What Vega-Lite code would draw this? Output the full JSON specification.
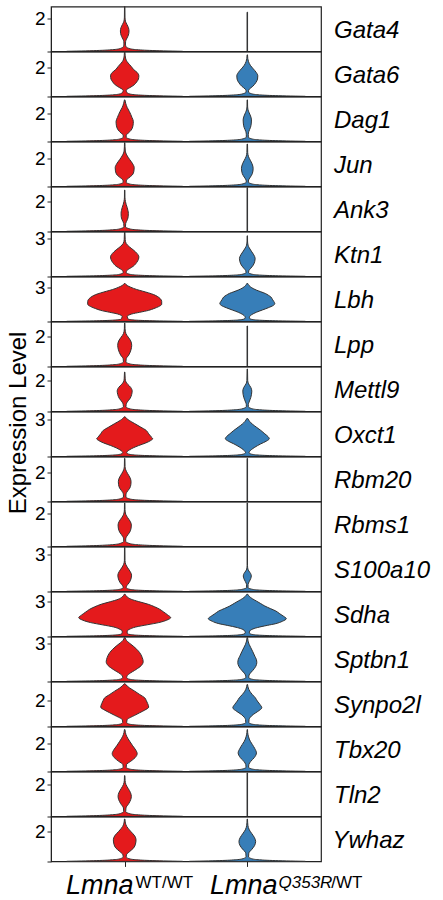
{
"$schema":"https://vega.github.io/schema/vega-lite/v6.json",
"padding":{"left":6,"top":3.5,"right":0,"bottom":0},
"spacing":0,
"bounds":"flush",
"title":{"text":"Expression Level","orient":"left","anchor":"middle","fontSize":24,"fontStyle":"normal","offset":3,"dx":29},
"datasets":{"violins":[
{"gene":"Gata4","grp":"WT","expr":0,"dens":116},{"gene":"Gata4","grp":"WT","expr":0.03,"dens":78},{"gene":"Gata4","grp":"WT","expr":0.06,"dens":50},{"gene":"Gata4","grp":"WT","expr":0.09,"dens":31},{"gene":"Gata4","grp":"WT","expr":0.12,"dens":19},{"gene":"Gata4","grp":"WT","expr":0.16,"dens":11},{"gene":"Gata4","grp":"WT","expr":0.2,"dens":7},{"gene":"Gata4","grp":"WT","expr":0.3,"dens":2.5},{"gene":"Gata4","grp":"WT","expr":0.45,"dens":1.5},{"gene":"Gata4","grp":"WT","expr":0.6,"dens":1.8},{"gene":"Gata4","grp":"WT","expr":0.75,"dens":3.5},{"gene":"Gata4","grp":"WT","expr":0.9,"dens":6},{"gene":"Gata4","grp":"WT","expr":1.1,"dens":8.2},{"gene":"Gata4","grp":"WT","expr":1.25,"dens":8.6},{"gene":"Gata4","grp":"WT","expr":1.45,"dens":7.5},{"gene":"Gata4","grp":"WT","expr":1.65,"dens":4.5},{"gene":"Gata4","grp":"WT","expr":1.85,"dens":1.5},{"gene":"Gata4","grp":"WT","expr":2.1,"dens":0.6},{"gene":"Gata4","grp":"WT","expr":2.75,"dens":0.4},
{"gene":"Gata4","grp":"MUT","expr":0,"dens":0.5},{"gene":"Gata4","grp":"MUT","expr":2.4,"dens":0.5},
{"gene":"Gata6","grp":"WT","expr":0,"dens":116},{"gene":"Gata6","grp":"WT","expr":0.03,"dens":78},{"gene":"Gata6","grp":"WT","expr":0.06,"dens":50},{"gene":"Gata6","grp":"WT","expr":0.09,"dens":31},{"gene":"Gata6","grp":"WT","expr":0.12,"dens":19},{"gene":"Gata6","grp":"WT","expr":0.16,"dens":11},{"gene":"Gata6","grp":"WT","expr":0.2,"dens":7},{"gene":"Gata6","grp":"WT","expr":0.3,"dens":4},{"gene":"Gata6","grp":"WT","expr":0.41,"dens":3},{"gene":"Gata6","grp":"WT","expr":0.5,"dens":5},{"gene":"Gata6","grp":"WT","expr":0.6,"dens":10},{"gene":"Gata6","grp":"WT","expr":0.8,"dens":19},{"gene":"Gata6","grp":"WT","expr":1.0,"dens":24},{"gene":"Gata6","grp":"WT","expr":1.2,"dens":27.5},{"gene":"Gata6","grp":"WT","expr":1.42,"dens":28.3},{"gene":"Gata6","grp":"WT","expr":1.65,"dens":25},{"gene":"Gata6","grp":"WT","expr":1.85,"dens":18},{"gene":"Gata6","grp":"WT","expr":2.07,"dens":13},{"gene":"Gata6","grp":"WT","expr":2.3,"dens":7},{"gene":"Gata6","grp":"WT","expr":2.5,"dens":3},{"gene":"Gata6","grp":"WT","expr":2.8,"dens":1},{"gene":"Gata6","grp":"WT","expr":3.1,"dens":0.4},
{"gene":"Gata6","grp":"MUT","expr":0,"dens":116},{"gene":"Gata6","grp":"MUT","expr":0.03,"dens":78},{"gene":"Gata6","grp":"MUT","expr":0.06,"dens":50},{"gene":"Gata6","grp":"MUT","expr":0.09,"dens":31},{"gene":"Gata6","grp":"MUT","expr":0.12,"dens":19},{"gene":"Gata6","grp":"MUT","expr":0.16,"dens":11},{"gene":"Gata6","grp":"MUT","expr":0.2,"dens":7},{"gene":"Gata6","grp":"MUT","expr":0.3,"dens":2.5},{"gene":"Gata6","grp":"MUT","expr":0.4,"dens":2.5},{"gene":"Gata6","grp":"MUT","expr":0.5,"dens":4},{"gene":"Gata6","grp":"MUT","expr":0.7,"dens":11},{"gene":"Gata6","grp":"MUT","expr":0.95,"dens":17},{"gene":"Gata6","grp":"MUT","expr":1.2,"dens":20.5},{"gene":"Gata6","grp":"MUT","expr":1.42,"dens":21},{"gene":"Gata6","grp":"MUT","expr":1.65,"dens":18},{"gene":"Gata6","grp":"MUT","expr":1.9,"dens":12},{"gene":"Gata6","grp":"MUT","expr":2.15,"dens":6},{"gene":"Gata6","grp":"MUT","expr":2.4,"dens":2.5},{"gene":"Gata6","grp":"MUT","expr":2.6,"dens":1},{"gene":"Gata6","grp":"MUT","expr":2.87,"dens":0.4},
{"gene":"Dag1","grp":"WT","expr":0,"dens":116},{"gene":"Dag1","grp":"WT","expr":0.03,"dens":78},{"gene":"Dag1","grp":"WT","expr":0.06,"dens":50},{"gene":"Dag1","grp":"WT","expr":0.09,"dens":31},{"gene":"Dag1","grp":"WT","expr":0.12,"dens":19},{"gene":"Dag1","grp":"WT","expr":0.16,"dens":11},{"gene":"Dag1","grp":"WT","expr":0.2,"dens":7},{"gene":"Dag1","grp":"WT","expr":0.3,"dens":3},{"gene":"Dag1","grp":"WT","expr":0.45,"dens":3},{"gene":"Dag1","grp":"WT","expr":0.58,"dens":7},{"gene":"Dag1","grp":"WT","expr":0.8,"dens":13},{"gene":"Dag1","grp":"WT","expr":1.1,"dens":16.5},{"gene":"Dag1","grp":"WT","expr":1.41,"dens":17.3},{"gene":"Dag1","grp":"WT","expr":1.7,"dens":14.5},{"gene":"Dag1","grp":"WT","expr":2.12,"dens":9.3},{"gene":"Dag1","grp":"WT","expr":2.4,"dens":5},{"gene":"Dag1","grp":"WT","expr":2.7,"dens":2},{"gene":"Dag1","grp":"WT","expr":2.94,"dens":0.5},
{"gene":"Dag1","grp":"MUT","expr":0,"dens":116},{"gene":"Dag1","grp":"MUT","expr":0.03,"dens":78},{"gene":"Dag1","grp":"MUT","expr":0.06,"dens":50},{"gene":"Dag1","grp":"MUT","expr":0.09,"dens":31},{"gene":"Dag1","grp":"MUT","expr":0.12,"dens":19},{"gene":"Dag1","grp":"MUT","expr":0.16,"dens":11},{"gene":"Dag1","grp":"MUT","expr":0.2,"dens":7},{"gene":"Dag1","grp":"MUT","expr":0.3,"dens":2},{"gene":"Dag1","grp":"MUT","expr":0.5,"dens":2},{"gene":"Dag1","grp":"MUT","expr":0.7,"dens":3},{"gene":"Dag1","grp":"MUT","expr":1.0,"dens":6.5},{"gene":"Dag1","grp":"MUT","expr":1.3,"dens":8},{"gene":"Dag1","grp":"MUT","expr":1.52,"dens":8.3},{"gene":"Dag1","grp":"MUT","expr":1.8,"dens":6.5},{"gene":"Dag1","grp":"MUT","expr":2.05,"dens":3.5},{"gene":"Dag1","grp":"MUT","expr":2.23,"dens":1.5},{"gene":"Dag1","grp":"MUT","expr":2.5,"dens":0.6},{"gene":"Dag1","grp":"MUT","expr":2.94,"dens":0.4},
{"gene":"Jun","grp":"WT","expr":0,"dens":116},{"gene":"Jun","grp":"WT","expr":0.03,"dens":78},{"gene":"Jun","grp":"WT","expr":0.06,"dens":50},{"gene":"Jun","grp":"WT","expr":0.09,"dens":31},{"gene":"Jun","grp":"WT","expr":0.12,"dens":19},{"gene":"Jun","grp":"WT","expr":0.16,"dens":11},{"gene":"Jun","grp":"WT","expr":0.2,"dens":7},{"gene":"Jun","grp":"WT","expr":0.3,"dens":3},{"gene":"Jun","grp":"WT","expr":0.45,"dens":3.5},{"gene":"Jun","grp":"WT","expr":0.57,"dens":7},{"gene":"Jun","grp":"WT","expr":0.8,"dens":15},{"gene":"Jun","grp":"WT","expr":1.1,"dens":18.5},{"gene":"Jun","grp":"WT","expr":1.33,"dens":19},{"gene":"Jun","grp":"WT","expr":1.6,"dens":16},{"gene":"Jun","grp":"WT","expr":1.9,"dens":10},{"gene":"Jun","grp":"WT","expr":2.23,"dens":4},{"gene":"Jun","grp":"WT","expr":2.5,"dens":1.2},{"gene":"Jun","grp":"WT","expr":3.1,"dens":0.4},
{"gene":"Jun","grp":"MUT","expr":0,"dens":116},{"gene":"Jun","grp":"MUT","expr":0.03,"dens":78},{"gene":"Jun","grp":"MUT","expr":0.06,"dens":50},{"gene":"Jun","grp":"MUT","expr":0.09,"dens":31},{"gene":"Jun","grp":"MUT","expr":0.12,"dens":19},{"gene":"Jun","grp":"MUT","expr":0.16,"dens":11},{"gene":"Jun","grp":"MUT","expr":0.2,"dens":7},{"gene":"Jun","grp":"MUT","expr":0.3,"dens":2},{"gene":"Jun","grp":"MUT","expr":0.45,"dens":2.5},{"gene":"Jun","grp":"MUT","expr":0.6,"dens":5},{"gene":"Jun","grp":"MUT","expr":0.9,"dens":10},{"gene":"Jun","grp":"MUT","expr":1.28,"dens":11.7},{"gene":"Jun","grp":"MUT","expr":1.6,"dens":9.5},{"gene":"Jun","grp":"MUT","expr":1.85,"dens":6},{"gene":"Jun","grp":"MUT","expr":2.1,"dens":2.5},{"gene":"Jun","grp":"MUT","expr":2.4,"dens":0.8},{"gene":"Jun","grp":"MUT","expr":3.0,"dens":0.4},
{"gene":"Ank3","grp":"WT","expr":0,"dens":116},{"gene":"Ank3","grp":"WT","expr":0.03,"dens":78},{"gene":"Ank3","grp":"WT","expr":0.06,"dens":50},{"gene":"Ank3","grp":"WT","expr":0.09,"dens":31},{"gene":"Ank3","grp":"WT","expr":0.12,"dens":19},{"gene":"Ank3","grp":"WT","expr":0.16,"dens":11},{"gene":"Ank3","grp":"WT","expr":0.2,"dens":7},{"gene":"Ank3","grp":"WT","expr":0.3,"dens":1.5},{"gene":"Ank3","grp":"WT","expr":0.54,"dens":2},{"gene":"Ank3","grp":"WT","expr":0.8,"dens":5.5},{"gene":"Ank3","grp":"WT","expr":1.0,"dens":7},{"gene":"Ank3","grp":"WT","expr":1.21,"dens":7.3},{"gene":"Ank3","grp":"WT","expr":1.4,"dens":6.5},{"gene":"Ank3","grp":"WT","expr":1.6,"dens":5},{"gene":"Ank3","grp":"WT","expr":1.8,"dens":3},{"gene":"Ank3","grp":"WT","expr":2.0,"dens":1.5},{"gene":"Ank3","grp":"WT","expr":2.3,"dens":0.5},{"gene":"Ank3","grp":"WT","expr":2.77,"dens":0.4},
{"gene":"Ank3","grp":"MUT","expr":0,"dens":0.5},{"gene":"Ank3","grp":"MUT","expr":2.93,"dens":0.5},
{"gene":"Ktn1","grp":"WT","expr":0,"dens":116},{"gene":"Ktn1","grp":"WT","expr":0.03,"dens":78},{"gene":"Ktn1","grp":"WT","expr":0.06,"dens":50},{"gene":"Ktn1","grp":"WT","expr":0.09,"dens":31},{"gene":"Ktn1","grp":"WT","expr":0.12,"dens":19},{"gene":"Ktn1","grp":"WT","expr":0.16,"dens":11},{"gene":"Ktn1","grp":"WT","expr":0.2,"dens":7},{"gene":"Ktn1","grp":"WT","expr":0.3,"dens":3},{"gene":"Ktn1","grp":"WT","expr":0.45,"dens":4},{"gene":"Ktn1","grp":"WT","expr":0.6,"dens":9},{"gene":"Ktn1","grp":"WT","expr":0.8,"dens":17},{"gene":"Ktn1","grp":"WT","expr":1.1,"dens":24},{"gene":"Ktn1","grp":"WT","expr":1.35,"dens":27.5},{"gene":"Ktn1","grp":"WT","expr":1.55,"dens":28.3},{"gene":"Ktn1","grp":"WT","expr":1.8,"dens":25},{"gene":"Ktn1","grp":"WT","expr":2.1,"dens":17},{"gene":"Ktn1","grp":"WT","expr":2.35,"dens":9},{"gene":"Ktn1","grp":"WT","expr":2.6,"dens":3},{"gene":"Ktn1","grp":"WT","expr":2.9,"dens":1},{"gene":"Ktn1","grp":"WT","expr":3.53,"dens":0.4},
{"gene":"Ktn1","grp":"MUT","expr":0,"dens":116},{"gene":"Ktn1","grp":"MUT","expr":0.03,"dens":78},{"gene":"Ktn1","grp":"MUT","expr":0.06,"dens":50},{"gene":"Ktn1","grp":"MUT","expr":0.09,"dens":31},{"gene":"Ktn1","grp":"MUT","expr":0.12,"dens":19},{"gene":"Ktn1","grp":"MUT","expr":0.16,"dens":11},{"gene":"Ktn1","grp":"MUT","expr":0.2,"dens":7},{"gene":"Ktn1","grp":"MUT","expr":0.3,"dens":2.5},{"gene":"Ktn1","grp":"MUT","expr":0.45,"dens":3},{"gene":"Ktn1","grp":"MUT","expr":0.6,"dens":6},{"gene":"Ktn1","grp":"MUT","expr":0.9,"dens":12},{"gene":"Ktn1","grp":"MUT","expr":1.2,"dens":15},{"gene":"Ktn1","grp":"MUT","expr":1.42,"dens":15.7},{"gene":"Ktn1","grp":"MUT","expr":1.7,"dens":13},{"gene":"Ktn1","grp":"MUT","expr":2.0,"dens":8},{"gene":"Ktn1","grp":"MUT","expr":2.25,"dens":4},{"gene":"Ktn1","grp":"MUT","expr":2.47,"dens":1.5},{"gene":"Ktn1","grp":"MUT","expr":2.8,"dens":0.5},{"gene":"Ktn1","grp":"MUT","expr":3.21,"dens":0.4},
{"gene":"Lbh","grp":"WT","expr":0,"dens":116},{"gene":"Lbh","grp":"WT","expr":0.03,"dens":78},{"gene":"Lbh","grp":"WT","expr":0.06,"dens":50},{"gene":"Lbh","grp":"WT","expr":0.09,"dens":31},{"gene":"Lbh","grp":"WT","expr":0.12,"dens":19},{"gene":"Lbh","grp":"WT","expr":0.16,"dens":11},{"gene":"Lbh","grp":"WT","expr":0.2,"dens":7},{"gene":"Lbh","grp":"WT","expr":0.3,"dens":6},{"gene":"Lbh","grp":"WT","expr":0.45,"dens":5},{"gene":"Lbh","grp":"WT","expr":0.55,"dens":8},{"gene":"Lbh","grp":"WT","expr":0.65,"dens":14},{"gene":"Lbh","grp":"WT","expr":0.8,"dens":30},{"gene":"Lbh","grp":"WT","expr":0.97,"dens":48},{"gene":"Lbh","grp":"WT","expr":1.12,"dens":58},{"gene":"Lbh","grp":"WT","expr":1.3,"dens":68},{"gene":"Lbh","grp":"WT","expr":1.5,"dens":74},{"gene":"Lbh","grp":"WT","expr":1.75,"dens":74},{"gene":"Lbh","grp":"WT","expr":2.0,"dens":71},{"gene":"Lbh","grp":"WT","expr":2.2,"dens":65},{"gene":"Lbh","grp":"WT","expr":2.35,"dens":58},{"gene":"Lbh","grp":"WT","expr":2.5,"dens":48},{"gene":"Lbh","grp":"WT","expr":2.65,"dens":36},{"gene":"Lbh","grp":"WT","expr":2.8,"dens":24},{"gene":"Lbh","grp":"WT","expr":3.0,"dens":12},{"gene":"Lbh","grp":"WT","expr":3.15,"dens":5},{"gene":"Lbh","grp":"WT","expr":3.32,"dens":1},
{"gene":"Lbh","grp":"MUT","expr":0,"dens":116},{"gene":"Lbh","grp":"MUT","expr":0.03,"dens":78},{"gene":"Lbh","grp":"MUT","expr":0.06,"dens":50},{"gene":"Lbh","grp":"MUT","expr":0.09,"dens":31},{"gene":"Lbh","grp":"MUT","expr":0.12,"dens":19},{"gene":"Lbh","grp":"MUT","expr":0.16,"dens":11},{"gene":"Lbh","grp":"MUT","expr":0.2,"dens":7},{"gene":"Lbh","grp":"MUT","expr":0.3,"dens":4},{"gene":"Lbh","grp":"MUT","expr":0.45,"dens":5},{"gene":"Lbh","grp":"MUT","expr":0.6,"dens":9},{"gene":"Lbh","grp":"MUT","expr":0.8,"dens":18},{"gene":"Lbh","grp":"MUT","expr":1.0,"dens":30},{"gene":"Lbh","grp":"MUT","expr":1.2,"dens":42},{"gene":"Lbh","grp":"MUT","expr":1.4,"dens":52},{"gene":"Lbh","grp":"MUT","expr":1.56,"dens":55},{"gene":"Lbh","grp":"MUT","expr":1.75,"dens":53},{"gene":"Lbh","grp":"MUT","expr":1.95,"dens":50},{"gene":"Lbh","grp":"MUT","expr":2.15,"dens":47},{"gene":"Lbh","grp":"MUT","expr":2.3,"dens":42},{"gene":"Lbh","grp":"MUT","expr":2.45,"dens":36},{"gene":"Lbh","grp":"MUT","expr":2.6,"dens":27},{"gene":"Lbh","grp":"MUT","expr":2.75,"dens":18},{"gene":"Lbh","grp":"MUT","expr":2.95,"dens":9},{"gene":"Lbh","grp":"MUT","expr":3.15,"dens":3.5},{"gene":"Lbh","grp":"MUT","expr":3.32,"dens":1},
{"gene":"Lpp","grp":"WT","expr":0,"dens":116},{"gene":"Lpp","grp":"WT","expr":0.03,"dens":78},{"gene":"Lpp","grp":"WT","expr":0.06,"dens":50},{"gene":"Lpp","grp":"WT","expr":0.09,"dens":31},{"gene":"Lpp","grp":"WT","expr":0.12,"dens":19},{"gene":"Lpp","grp":"WT","expr":0.16,"dens":11},{"gene":"Lpp","grp":"WT","expr":0.2,"dens":7},{"gene":"Lpp","grp":"WT","expr":0.3,"dens":2.5},{"gene":"Lpp","grp":"WT","expr":0.51,"dens":3},{"gene":"Lpp","grp":"WT","expr":0.75,"dens":8},{"gene":"Lpp","grp":"WT","expr":1.1,"dens":12.5},{"gene":"Lpp","grp":"WT","expr":1.4,"dens":14},{"gene":"Lpp","grp":"WT","expr":1.7,"dens":12},{"gene":"Lpp","grp":"WT","expr":1.95,"dens":7},{"gene":"Lpp","grp":"WT","expr":2.18,"dens":2.5},{"gene":"Lpp","grp":"WT","expr":2.5,"dens":0.7},{"gene":"Lpp","grp":"WT","expr":2.89,"dens":0.4},
{"gene":"Lpp","grp":"MUT","expr":0,"dens":0.5},{"gene":"Lpp","grp":"MUT","expr":2.69,"dens":0.5},
{"gene":"Mettl9","grp":"WT","expr":0,"dens":116},{"gene":"Mettl9","grp":"WT","expr":0.03,"dens":78},{"gene":"Mettl9","grp":"WT","expr":0.06,"dens":50},{"gene":"Mettl9","grp":"WT","expr":0.09,"dens":31},{"gene":"Mettl9","grp":"WT","expr":0.12,"dens":19},{"gene":"Mettl9","grp":"WT","expr":0.16,"dens":11},{"gene":"Mettl9","grp":"WT","expr":0.2,"dens":7},{"gene":"Mettl9","grp":"WT","expr":0.3,"dens":2.5},{"gene":"Mettl9","grp":"WT","expr":0.45,"dens":3},{"gene":"Mettl9","grp":"WT","expr":0.6,"dens":5},{"gene":"Mettl9","grp":"WT","expr":0.85,"dens":11},{"gene":"Mettl9","grp":"WT","expr":1.1,"dens":14},{"gene":"Mettl9","grp":"WT","expr":1.31,"dens":15},{"gene":"Mettl9","grp":"WT","expr":1.55,"dens":12},{"gene":"Mettl9","grp":"WT","expr":1.75,"dens":6},{"gene":"Mettl9","grp":"WT","expr":1.9,"dens":2.5},{"gene":"Mettl9","grp":"WT","expr":2.1,"dens":1},{"gene":"Mettl9","grp":"WT","expr":2.54,"dens":0.4},
{"gene":"Mettl9","grp":"MUT","expr":0,"dens":116},{"gene":"Mettl9","grp":"MUT","expr":0.03,"dens":78},{"gene":"Mettl9","grp":"MUT","expr":0.06,"dens":50},{"gene":"Mettl9","grp":"MUT","expr":0.09,"dens":31},{"gene":"Mettl9","grp":"MUT","expr":0.12,"dens":19},{"gene":"Mettl9","grp":"MUT","expr":0.16,"dens":11},{"gene":"Mettl9","grp":"MUT","expr":0.2,"dens":7},{"gene":"Mettl9","grp":"MUT","expr":0.3,"dens":2},{"gene":"Mettl9","grp":"MUT","expr":0.45,"dens":2},{"gene":"Mettl9","grp":"MUT","expr":0.6,"dens":3.5},{"gene":"Mettl9","grp":"MUT","expr":0.9,"dens":7},{"gene":"Mettl9","grp":"MUT","expr":1.31,"dens":9},{"gene":"Mettl9","grp":"MUT","expr":1.55,"dens":7},{"gene":"Mettl9","grp":"MUT","expr":1.78,"dens":2.5},{"gene":"Mettl9","grp":"MUT","expr":2.0,"dens":0.8},{"gene":"Mettl9","grp":"MUT","expr":2.74,"dens":0.4},
{"gene":"Oxct1","grp":"WT","expr":0,"dens":116},{"gene":"Oxct1","grp":"WT","expr":0.03,"dens":78},{"gene":"Oxct1","grp":"WT","expr":0.06,"dens":50},{"gene":"Oxct1","grp":"WT","expr":0.09,"dens":31},{"gene":"Oxct1","grp":"WT","expr":0.12,"dens":19},{"gene":"Oxct1","grp":"WT","expr":0.16,"dens":11},{"gene":"Oxct1","grp":"WT","expr":0.2,"dens":7},{"gene":"Oxct1","grp":"WT","expr":0.3,"dens":4},{"gene":"Oxct1","grp":"WT","expr":0.4,"dens":5},{"gene":"Oxct1","grp":"WT","expr":0.55,"dens":10},{"gene":"Oxct1","grp":"WT","expr":0.7,"dens":17},{"gene":"Oxct1","grp":"WT","expr":0.89,"dens":28},{"gene":"Oxct1","grp":"WT","expr":1.1,"dens":42},{"gene":"Oxct1","grp":"WT","expr":1.3,"dens":52},{"gene":"Oxct1","grp":"WT","expr":1.45,"dens":56},{"gene":"Oxct1","grp":"WT","expr":1.6,"dens":53},{"gene":"Oxct1","grp":"WT","expr":1.85,"dens":48},{"gene":"Oxct1","grp":"WT","expr":2.13,"dens":43},{"gene":"Oxct1","grp":"WT","expr":2.4,"dens":32},{"gene":"Oxct1","grp":"WT","expr":2.69,"dens":20},{"gene":"Oxct1","grp":"WT","expr":2.95,"dens":9},{"gene":"Oxct1","grp":"WT","expr":3.1,"dens":4},{"gene":"Oxct1","grp":"WT","expr":3.24,"dens":1},
{"gene":"Oxct1","grp":"MUT","expr":0,"dens":116},{"gene":"Oxct1","grp":"MUT","expr":0.03,"dens":78},{"gene":"Oxct1","grp":"MUT","expr":0.06,"dens":50},{"gene":"Oxct1","grp":"MUT","expr":0.09,"dens":31},{"gene":"Oxct1","grp":"MUT","expr":0.12,"dens":19},{"gene":"Oxct1","grp":"MUT","expr":0.16,"dens":11},{"gene":"Oxct1","grp":"MUT","expr":0.2,"dens":7},{"gene":"Oxct1","grp":"MUT","expr":0.3,"dens":3.5},{"gene":"Oxct1","grp":"MUT","expr":0.4,"dens":4.5},{"gene":"Oxct1","grp":"MUT","expr":0.55,"dens":8},{"gene":"Oxct1","grp":"MUT","expr":0.75,"dens":15},{"gene":"Oxct1","grp":"MUT","expr":1.03,"dens":27},{"gene":"Oxct1","grp":"MUT","expr":1.25,"dens":38},{"gene":"Oxct1","grp":"MUT","expr":1.45,"dens":44},{"gene":"Oxct1","grp":"MUT","expr":1.6,"dens":42},{"gene":"Oxct1","grp":"MUT","expr":1.85,"dens":35},{"gene":"Oxct1","grp":"MUT","expr":2.13,"dens":27},{"gene":"Oxct1","grp":"MUT","expr":2.4,"dens":18},{"gene":"Oxct1","grp":"MUT","expr":2.65,"dens":10},{"gene":"Oxct1","grp":"MUT","expr":2.85,"dens":5},{"gene":"Oxct1","grp":"MUT","expr":3.1,"dens":1},
{"gene":"Rbm20","grp":"WT","expr":0,"dens":116},{"gene":"Rbm20","grp":"WT","expr":0.03,"dens":78},{"gene":"Rbm20","grp":"WT","expr":0.06,"dens":50},{"gene":"Rbm20","grp":"WT","expr":0.09,"dens":31},{"gene":"Rbm20","grp":"WT","expr":0.12,"dens":19},{"gene":"Rbm20","grp":"WT","expr":0.16,"dens":11},{"gene":"Rbm20","grp":"WT","expr":0.2,"dens":7},{"gene":"Rbm20","grp":"WT","expr":0.3,"dens":2.5},{"gene":"Rbm20","grp":"WT","expr":0.45,"dens":2.5},{"gene":"Rbm20","grp":"WT","expr":0.62,"dens":4},{"gene":"Rbm20","grp":"WT","expr":0.9,"dens":10},{"gene":"Rbm20","grp":"WT","expr":1.15,"dens":12.3},{"gene":"Rbm20","grp":"WT","expr":1.35,"dens":12.7},{"gene":"Rbm20","grp":"WT","expr":1.6,"dens":11},{"gene":"Rbm20","grp":"WT","expr":1.9,"dens":6},{"gene":"Rbm20","grp":"WT","expr":2.17,"dens":2},{"gene":"Rbm20","grp":"WT","expr":2.4,"dens":0.7},{"gene":"Rbm20","grp":"WT","expr":2.95,"dens":0.4},
{"gene":"Rbm20","grp":"MUT","expr":0,"dens":0.5},{"gene":"Rbm20","grp":"MUT","expr":2.95,"dens":0.5},
{"gene":"Rbms1","grp":"WT","expr":0,"dens":116},{"gene":"Rbms1","grp":"WT","expr":0.03,"dens":78},{"gene":"Rbms1","grp":"WT","expr":0.06,"dens":50},{"gene":"Rbms1","grp":"WT","expr":0.09,"dens":31},{"gene":"Rbms1","grp":"WT","expr":0.12,"dens":19},{"gene":"Rbms1","grp":"WT","expr":0.16,"dens":11},{"gene":"Rbms1","grp":"WT","expr":0.2,"dens":7},{"gene":"Rbms1","grp":"WT","expr":0.3,"dens":2},{"gene":"Rbms1","grp":"WT","expr":0.45,"dens":2},{"gene":"Rbms1","grp":"WT","expr":0.6,"dens":4},{"gene":"Rbms1","grp":"WT","expr":0.85,"dens":10},{"gene":"Rbms1","grp":"WT","expr":1.1,"dens":12.8},{"gene":"Rbms1","grp":"WT","expr":1.28,"dens":13.3},{"gene":"Rbms1","grp":"WT","expr":1.5,"dens":11},{"gene":"Rbms1","grp":"WT","expr":1.72,"dens":6},{"gene":"Rbms1","grp":"WT","expr":1.93,"dens":2},{"gene":"Rbms1","grp":"WT","expr":2.2,"dens":0.6},{"gene":"Rbms1","grp":"WT","expr":2.6,"dens":0.4},
{"gene":"Rbms1","grp":"MUT","expr":0,"dens":0.5},{"gene":"Rbms1","grp":"MUT","expr":2.6,"dens":0.5},
{"gene":"S100a10","grp":"WT","expr":0,"dens":116},{"gene":"S100a10","grp":"WT","expr":0.03,"dens":78},{"gene":"S100a10","grp":"WT","expr":0.06,"dens":50},{"gene":"S100a10","grp":"WT","expr":0.09,"dens":31},{"gene":"S100a10","grp":"WT","expr":0.12,"dens":19},{"gene":"S100a10","grp":"WT","expr":0.16,"dens":11},{"gene":"S100a10","grp":"WT","expr":0.2,"dens":7},{"gene":"S100a10","grp":"WT","expr":0.3,"dens":3},{"gene":"S100a10","grp":"WT","expr":0.45,"dens":4},{"gene":"S100a10","grp":"WT","expr":0.7,"dens":9},{"gene":"S100a10","grp":"WT","expr":1.0,"dens":12.5},{"gene":"S100a10","grp":"WT","expr":1.31,"dens":13.7},{"gene":"S100a10","grp":"WT","expr":1.6,"dens":11},{"gene":"S100a10","grp":"WT","expr":1.9,"dens":6},{"gene":"S100a10","grp":"WT","expr":2.19,"dens":2},{"gene":"S100a10","grp":"WT","expr":2.5,"dens":0.6},{"gene":"S100a10","grp":"WT","expr":3.55,"dens":0.4},
{"gene":"S100a10","grp":"MUT","expr":0,"dens":116},{"gene":"S100a10","grp":"MUT","expr":0.03,"dens":78},{"gene":"S100a10","grp":"MUT","expr":0.06,"dens":50},{"gene":"S100a10","grp":"MUT","expr":0.09,"dens":31},{"gene":"S100a10","grp":"MUT","expr":0.12,"dens":19},{"gene":"S100a10","grp":"MUT","expr":0.16,"dens":11},{"gene":"S100a10","grp":"MUT","expr":0.2,"dens":7},{"gene":"S100a10","grp":"MUT","expr":0.3,"dens":1.5},{"gene":"S100a10","grp":"MUT","expr":0.55,"dens":1.5},{"gene":"S100a10","grp":"MUT","expr":0.8,"dens":4},{"gene":"S100a10","grp":"MUT","expr":1.05,"dens":7},{"gene":"S100a10","grp":"MUT","expr":1.25,"dens":8},{"gene":"S100a10","grp":"MUT","expr":1.45,"dens":6.5},{"gene":"S100a10","grp":"MUT","expr":1.65,"dens":3},{"gene":"S100a10","grp":"MUT","expr":1.8,"dens":1.2},{"gene":"S100a10","grp":"MUT","expr":2.1,"dens":0.4},{"gene":"S100a10","grp":"MUT","expr":3.55,"dens":0.4},
{"gene":"Sdha","grp":"WT","expr":0,"dens":116},{"gene":"Sdha","grp":"WT","expr":0.03,"dens":78},{"gene":"Sdha","grp":"WT","expr":0.06,"dens":50},{"gene":"Sdha","grp":"WT","expr":0.09,"dens":31},{"gene":"Sdha","grp":"WT","expr":0.12,"dens":19},{"gene":"Sdha","grp":"WT","expr":0.16,"dens":11},{"gene":"Sdha","grp":"WT","expr":0.2,"dens":7},{"gene":"Sdha","grp":"WT","expr":0.3,"dens":5},{"gene":"Sdha","grp":"WT","expr":0.47,"dens":5},{"gene":"Sdha","grp":"WT","expr":0.6,"dens":9},{"gene":"Sdha","grp":"WT","expr":0.81,"dens":22},{"gene":"Sdha","grp":"WT","expr":1.0,"dens":45},{"gene":"Sdha","grp":"WT","expr":1.19,"dens":68},{"gene":"Sdha","grp":"WT","expr":1.4,"dens":84},{"gene":"Sdha","grp":"WT","expr":1.62,"dens":92},{"gene":"Sdha","grp":"WT","expr":1.85,"dens":86},{"gene":"Sdha","grp":"WT","expr":2.1,"dens":78},{"gene":"Sdha","grp":"WT","expr":2.34,"dens":70},{"gene":"Sdha","grp":"WT","expr":2.55,"dens":60},{"gene":"Sdha","grp":"WT","expr":2.77,"dens":47},{"gene":"Sdha","grp":"WT","expr":3.0,"dens":28},{"gene":"Sdha","grp":"WT","expr":3.2,"dens":13},{"gene":"Sdha","grp":"WT","expr":3.4,"dens":5},{"gene":"Sdha","grp":"WT","expr":3.63,"dens":1},
{"gene":"Sdha","grp":"MUT","expr":0,"dens":116},{"gene":"Sdha","grp":"MUT","expr":0.03,"dens":78},{"gene":"Sdha","grp":"MUT","expr":0.06,"dens":50},{"gene":"Sdha","grp":"MUT","expr":0.09,"dens":31},{"gene":"Sdha","grp":"MUT","expr":0.12,"dens":19},{"gene":"Sdha","grp":"MUT","expr":0.16,"dens":11},{"gene":"Sdha","grp":"MUT","expr":0.2,"dens":7},{"gene":"Sdha","grp":"MUT","expr":0.3,"dens":4},{"gene":"Sdha","grp":"MUT","expr":0.47,"dens":5},{"gene":"Sdha","grp":"MUT","expr":0.6,"dens":9},{"gene":"Sdha","grp":"MUT","expr":0.76,"dens":20},{"gene":"Sdha","grp":"MUT","expr":0.95,"dens":40},{"gene":"Sdha","grp":"MUT","expr":1.1,"dens":57},{"gene":"Sdha","grp":"MUT","expr":1.3,"dens":70},{"gene":"Sdha","grp":"MUT","expr":1.53,"dens":78},{"gene":"Sdha","grp":"MUT","expr":1.75,"dens":72},{"gene":"Sdha","grp":"MUT","expr":1.95,"dens":65},{"gene":"Sdha","grp":"MUT","expr":2.19,"dens":57},{"gene":"Sdha","grp":"MUT","expr":2.4,"dens":46},{"gene":"Sdha","grp":"MUT","expr":2.62,"dens":35},{"gene":"Sdha","grp":"MUT","expr":2.85,"dens":26},{"gene":"Sdha","grp":"MUT","expr":3.05,"dens":18},{"gene":"Sdha","grp":"MUT","expr":3.25,"dens":10},{"gene":"Sdha","grp":"MUT","expr":3.45,"dens":4},{"gene":"Sdha","grp":"MUT","expr":3.63,"dens":1},
{"gene":"Sptbn1","grp":"WT","expr":0,"dens":116},{"gene":"Sptbn1","grp":"WT","expr":0.03,"dens":78},{"gene":"Sptbn1","grp":"WT","expr":0.06,"dens":50},{"gene":"Sptbn1","grp":"WT","expr":0.09,"dens":31},{"gene":"Sptbn1","grp":"WT","expr":0.12,"dens":19},{"gene":"Sptbn1","grp":"WT","expr":0.16,"dens":11},{"gene":"Sptbn1","grp":"WT","expr":0.2,"dens":7},{"gene":"Sptbn1","grp":"WT","expr":0.3,"dens":4},{"gene":"Sptbn1","grp":"WT","expr":0.42,"dens":4.5},{"gene":"Sptbn1","grp":"WT","expr":0.6,"dens":9},{"gene":"Sptbn1","grp":"WT","expr":0.95,"dens":23},{"gene":"Sptbn1","grp":"WT","expr":1.25,"dens":33},{"gene":"Sptbn1","grp":"WT","expr":1.56,"dens":37},{"gene":"Sptbn1","grp":"WT","expr":1.9,"dens":35},{"gene":"Sptbn1","grp":"WT","expr":2.28,"dens":30},{"gene":"Sptbn1","grp":"WT","expr":2.55,"dens":24},{"gene":"Sptbn1","grp":"WT","expr":2.8,"dens":17},{"gene":"Sptbn1","grp":"WT","expr":3.05,"dens":9},{"gene":"Sptbn1","grp":"WT","expr":3.25,"dens":3.5},{"gene":"Sptbn1","grp":"WT","expr":3.47,"dens":0.8},
{"gene":"Sptbn1","grp":"MUT","expr":0,"dens":116},{"gene":"Sptbn1","grp":"MUT","expr":0.03,"dens":78},{"gene":"Sptbn1","grp":"MUT","expr":0.06,"dens":50},{"gene":"Sptbn1","grp":"MUT","expr":0.09,"dens":31},{"gene":"Sptbn1","grp":"MUT","expr":0.12,"dens":19},{"gene":"Sptbn1","grp":"MUT","expr":0.16,"dens":11},{"gene":"Sptbn1","grp":"MUT","expr":0.2,"dens":7},{"gene":"Sptbn1","grp":"MUT","expr":0.3,"dens":3},{"gene":"Sptbn1","grp":"MUT","expr":0.42,"dens":3},{"gene":"Sptbn1","grp":"MUT","expr":0.6,"dens":5},{"gene":"Sptbn1","grp":"MUT","expr":0.87,"dens":11},{"gene":"Sptbn1","grp":"MUT","expr":1.2,"dens":17},{"gene":"Sptbn1","grp":"MUT","expr":1.48,"dens":19},{"gene":"Sptbn1","grp":"MUT","expr":1.75,"dens":18},{"gene":"Sptbn1","grp":"MUT","expr":2.0,"dens":15},{"gene":"Sptbn1","grp":"MUT","expr":2.35,"dens":11},{"gene":"Sptbn1","grp":"MUT","expr":2.67,"dens":7},{"gene":"Sptbn1","grp":"MUT","expr":2.95,"dens":3.5},{"gene":"Sptbn1","grp":"MUT","expr":3.2,"dens":1.5},{"gene":"Sptbn1","grp":"MUT","expr":3.47,"dens":0.5},
{"gene":"Synpo2l","grp":"WT","expr":0,"dens":116},{"gene":"Synpo2l","grp":"WT","expr":0.03,"dens":78},{"gene":"Synpo2l","grp":"WT","expr":0.06,"dens":50},{"gene":"Synpo2l","grp":"WT","expr":0.09,"dens":31},{"gene":"Synpo2l","grp":"WT","expr":0.12,"dens":19},{"gene":"Synpo2l","grp":"WT","expr":0.16,"dens":11},{"gene":"Synpo2l","grp":"WT","expr":0.2,"dens":7},{"gene":"Synpo2l","grp":"WT","expr":0.3,"dens":4},{"gene":"Synpo2l","grp":"WT","expr":0.53,"dens":5},{"gene":"Synpo2l","grp":"WT","expr":0.7,"dens":12},{"gene":"Synpo2l","grp":"WT","expr":0.85,"dens":20},{"gene":"Synpo2l","grp":"WT","expr":1.05,"dens":30},{"gene":"Synpo2l","grp":"WT","expr":1.25,"dens":40},{"gene":"Synpo2l","grp":"WT","expr":1.48,"dens":48},{"gene":"Synpo2l","grp":"WT","expr":1.75,"dens":46},{"gene":"Synpo2l","grp":"WT","expr":2.0,"dens":43},{"gene":"Synpo2l","grp":"WT","expr":2.2,"dens":40},{"gene":"Synpo2l","grp":"WT","expr":2.45,"dens":30},{"gene":"Synpo2l","grp":"WT","expr":2.71,"dens":20},{"gene":"Synpo2l","grp":"WT","expr":2.95,"dens":10},{"gene":"Synpo2l","grp":"WT","expr":3.1,"dens":5},{"gene":"Synpo2l","grp":"WT","expr":3.27,"dens":1},
{"gene":"Synpo2l","grp":"MUT","expr":0,"dens":116},{"gene":"Synpo2l","grp":"MUT","expr":0.03,"dens":78},{"gene":"Synpo2l","grp":"MUT","expr":0.06,"dens":50},{"gene":"Synpo2l","grp":"MUT","expr":0.09,"dens":31},{"gene":"Synpo2l","grp":"MUT","expr":0.12,"dens":19},{"gene":"Synpo2l","grp":"MUT","expr":0.16,"dens":11},{"gene":"Synpo2l","grp":"MUT","expr":0.2,"dens":7},{"gene":"Synpo2l","grp":"MUT","expr":0.3,"dens":3},{"gene":"Synpo2l","grp":"MUT","expr":0.53,"dens":3.5},{"gene":"Synpo2l","grp":"MUT","expr":0.7,"dens":6},{"gene":"Synpo2l","grp":"MUT","expr":0.92,"dens":12},{"gene":"Synpo2l","grp":"MUT","expr":1.15,"dens":21},{"gene":"Synpo2l","grp":"MUT","expr":1.43,"dens":29},{"gene":"Synpo2l","grp":"MUT","expr":1.7,"dens":25},{"gene":"Synpo2l","grp":"MUT","expr":1.95,"dens":20},{"gene":"Synpo2l","grp":"MUT","expr":2.2,"dens":16},{"gene":"Synpo2l","grp":"MUT","expr":2.45,"dens":10},{"gene":"Synpo2l","grp":"MUT","expr":2.7,"dens":5},{"gene":"Synpo2l","grp":"MUT","expr":2.95,"dens":2},{"gene":"Synpo2l","grp":"MUT","expr":3.22,"dens":0.5},
{"gene":"Tbx20","grp":"WT","expr":0,"dens":116},{"gene":"Tbx20","grp":"WT","expr":0.03,"dens":78},{"gene":"Tbx20","grp":"WT","expr":0.06,"dens":50},{"gene":"Tbx20","grp":"WT","expr":0.09,"dens":31},{"gene":"Tbx20","grp":"WT","expr":0.12,"dens":19},{"gene":"Tbx20","grp":"WT","expr":0.16,"dens":11},{"gene":"Tbx20","grp":"WT","expr":0.2,"dens":7},{"gene":"Tbx20","grp":"WT","expr":0.3,"dens":3},{"gene":"Tbx20","grp":"WT","expr":0.49,"dens":3.5},{"gene":"Tbx20","grp":"WT","expr":0.73,"dens":12},{"gene":"Tbx20","grp":"WT","expr":1.0,"dens":21},{"gene":"Tbx20","grp":"WT","expr":1.29,"dens":25},{"gene":"Tbx20","grp":"WT","expr":1.55,"dens":22},{"gene":"Tbx20","grp":"WT","expr":1.85,"dens":16},{"gene":"Tbx20","grp":"WT","expr":2.18,"dens":10},{"gene":"Tbx20","grp":"WT","expr":2.54,"dens":4},{"gene":"Tbx20","grp":"WT","expr":2.8,"dens":1.5},{"gene":"Tbx20","grp":"WT","expr":3.03,"dens":0.5},
{"gene":"Tbx20","grp":"MUT","expr":0,"dens":116},{"gene":"Tbx20","grp":"MUT","expr":0.03,"dens":78},{"gene":"Tbx20","grp":"MUT","expr":0.06,"dens":50},{"gene":"Tbx20","grp":"MUT","expr":0.09,"dens":31},{"gene":"Tbx20","grp":"MUT","expr":0.12,"dens":19},{"gene":"Tbx20","grp":"MUT","expr":0.16,"dens":11},{"gene":"Tbx20","grp":"MUT","expr":0.2,"dens":7},{"gene":"Tbx20","grp":"MUT","expr":0.3,"dens":2.5},{"gene":"Tbx20","grp":"MUT","expr":0.49,"dens":3},{"gene":"Tbx20","grp":"MUT","expr":0.73,"dens":7},{"gene":"Tbx20","grp":"MUT","expr":1.0,"dens":14},{"gene":"Tbx20","grp":"MUT","expr":1.34,"dens":18.3},{"gene":"Tbx20","grp":"MUT","expr":1.65,"dens":15},{"gene":"Tbx20","grp":"MUT","expr":1.95,"dens":10},{"gene":"Tbx20","grp":"MUT","expr":2.18,"dens":6},{"gene":"Tbx20","grp":"MUT","expr":2.5,"dens":2.5},{"gene":"Tbx20","grp":"MUT","expr":2.8,"dens":0.8},{"gene":"Tbx20","grp":"MUT","expr":3.03,"dens":0.4},
{"gene":"Tln2","grp":"WT","expr":0,"dens":116},{"gene":"Tln2","grp":"WT","expr":0.03,"dens":78},{"gene":"Tln2","grp":"WT","expr":0.06,"dens":50},{"gene":"Tln2","grp":"WT","expr":0.09,"dens":31},{"gene":"Tln2","grp":"WT","expr":0.12,"dens":19},{"gene":"Tln2","grp":"WT","expr":0.16,"dens":11},{"gene":"Tln2","grp":"WT","expr":0.2,"dens":7},{"gene":"Tln2","grp":"WT","expr":0.3,"dens":2},{"gene":"Tln2","grp":"WT","expr":0.53,"dens":2.5},{"gene":"Tln2","grp":"WT","expr":0.8,"dens":8},{"gene":"Tln2","grp":"WT","expr":1.05,"dens":12},{"gene":"Tln2","grp":"WT","expr":1.26,"dens":13.3},{"gene":"Tln2","grp":"WT","expr":1.5,"dens":11.5},{"gene":"Tln2","grp":"WT","expr":1.75,"dens":7},{"gene":"Tln2","grp":"WT","expr":2.0,"dens":2.5},{"gene":"Tln2","grp":"WT","expr":2.25,"dens":0.8},{"gene":"Tln2","grp":"WT","expr":2.56,"dens":0.4},
{"gene":"Tln2","grp":"MUT","expr":0,"dens":0.5},{"gene":"Tln2","grp":"MUT","expr":2.73,"dens":0.5},
{"gene":"Ywhaz","grp":"WT","expr":0,"dens":116},{"gene":"Ywhaz","grp":"WT","expr":0.03,"dens":78},{"gene":"Ywhaz","grp":"WT","expr":0.06,"dens":50},{"gene":"Ywhaz","grp":"WT","expr":0.09,"dens":31},{"gene":"Ywhaz","grp":"WT","expr":0.12,"dens":19},{"gene":"Ywhaz","grp":"WT","expr":0.16,"dens":11},{"gene":"Ywhaz","grp":"WT","expr":0.2,"dens":7},{"gene":"Ywhaz","grp":"WT","expr":0.3,"dens":3},{"gene":"Ywhaz","grp":"WT","expr":0.44,"dens":3.5},{"gene":"Ywhaz","grp":"WT","expr":0.66,"dens":10},{"gene":"Ywhaz","grp":"WT","expr":0.9,"dens":18},{"gene":"Ywhaz","grp":"WT","expr":1.15,"dens":21.5},{"gene":"Ywhaz","grp":"WT","expr":1.44,"dens":22.7},{"gene":"Ywhaz","grp":"WT","expr":1.7,"dens":20},{"gene":"Ywhaz","grp":"WT","expr":2.0,"dens":12},{"gene":"Ywhaz","grp":"WT","expr":2.33,"dens":4},{"gene":"Ywhaz","grp":"WT","expr":2.55,"dens":1.5},{"gene":"Ywhaz","grp":"WT","expr":2.82,"dens":0.5},
{"gene":"Ywhaz","grp":"MUT","expr":0,"dens":116},{"gene":"Ywhaz","grp":"MUT","expr":0.03,"dens":78},{"gene":"Ywhaz","grp":"MUT","expr":0.06,"dens":50},{"gene":"Ywhaz","grp":"MUT","expr":0.09,"dens":31},{"gene":"Ywhaz","grp":"MUT","expr":0.12,"dens":19},{"gene":"Ywhaz","grp":"MUT","expr":0.16,"dens":11},{"gene":"Ywhaz","grp":"MUT","expr":0.2,"dens":7},{"gene":"Ywhaz","grp":"MUT","expr":0.3,"dens":2.5},{"gene":"Ywhaz","grp":"MUT","expr":0.55,"dens":3},{"gene":"Ywhaz","grp":"MUT","expr":0.8,"dens":9},{"gene":"Ywhaz","grp":"MUT","expr":1.05,"dens":14.5},{"gene":"Ywhaz","grp":"MUT","expr":1.33,"dens":16.7},{"gene":"Ywhaz","grp":"MUT","expr":1.6,"dens":14},{"gene":"Ywhaz","grp":"MUT","expr":1.85,"dens":9},{"gene":"Ywhaz","grp":"MUT","expr":2.1,"dens":4},{"gene":"Ywhaz","grp":"MUT","expr":2.4,"dens":1.2},{"gene":"Ywhaz","grp":"MUT","expr":2.82,"dens":0.4}
]},
"data":{"name":"violins"},
"vconcat":[
{"height":44.9,"width":270,"title":{"text":"Gata4","orient":"right","angle":0,"align":"right","baseline":"middle","fontStyle":"italic","fontSize":24,"offset":13,"dy":2},
 "layer":[
 {"transform":[{"filter":"datum.gene==='Gata4' && datum.grp==='WT'"}],"mark":{"type":"area","orient":"horizontal","interpolate":"monotone","fill":"#E41A1C","stroke":"#333","strokeWidth":1},"encoding":{"y":{"field":"expr","type":"quantitative","scale":{"domain":[0,2.75],"nice":false,"zero":false},"axis":{"values":[0,1,2],"labelExpr":"datum.value==2?'2':''","labelOverlap":false,"title":null}},"x":{"field":"dens","type":"quantitative","stack":"center","impute":null,"scale":{"domain":[-15.7,254.3],"nice":false,"zero":false},"axis":null}}},
 {"transform":[{"filter":"datum.gene==='Gata4' && datum.grp==='MUT'"}],"mark":{"type":"area","orient":"horizontal","interpolate":"monotone","fill":"#377EB8","stroke":"#333","strokeWidth":1},"encoding":{"y":{"field":"expr","type":"quantitative"},"x":{"field":"dens","type":"quantitative","stack":"center","impute":null,"scale":{"domain":[-196.05,73.95],"nice":false,"zero":false},"axis":null}}}
 ],"resolve":{"scale":{"x":"independent"}}},
{"height":44.9,"width":270,"title":{"text":"Gata6","orient":"right","angle":0,"align":"right","baseline":"middle","fontStyle":"italic","fontSize":24,"offset":13,"dy":2},
 "layer":[
 {"transform":[{"filter":"datum.gene==='Gata6' && datum.grp==='WT'"}],"mark":{"type":"area","orient":"horizontal","interpolate":"monotone","fill":"#E41A1C","stroke":"#333","strokeWidth":1},"encoding":{"y":{"field":"expr","type":"quantitative","scale":{"domain":[0,3.1],"nice":false,"zero":false},"axis":{"values":[0,1,2],"labelExpr":"datum.value==2?'2':''","labelOverlap":false,"title":null}},"x":{"field":"dens","type":"quantitative","stack":"center","impute":null,"scale":{"domain":[-15.7,254.3],"nice":false,"zero":false},"axis":null}}},
 {"transform":[{"filter":"datum.gene==='Gata6' && datum.grp==='MUT'"}],"mark":{"type":"area","orient":"horizontal","interpolate":"monotone","fill":"#377EB8","stroke":"#333","strokeWidth":1},"encoding":{"y":{"field":"expr","type":"quantitative"},"x":{"field":"dens","type":"quantitative","stack":"center","impute":null,"scale":{"domain":[-138.3,131.7],"nice":false,"zero":false},"axis":null}}}
 ],"resolve":{"scale":{"x":"independent"}}},
{"height":44.9,"width":270,"title":{"text":"Dag1","orient":"right","angle":0,"align":"right","baseline":"middle","fontStyle":"italic","fontSize":24,"offset":13,"dy":2},
 "layer":[
 {"transform":[{"filter":"datum.gene==='Dag1' && datum.grp==='WT'"}],"mark":{"type":"area","orient":"horizontal","interpolate":"monotone","fill":"#E41A1C","stroke":"#333","strokeWidth":1},"encoding":{"y":{"field":"expr","type":"quantitative","scale":{"domain":[0,3.18],"nice":false,"zero":false},"axis":{"values":[0,1,2],"labelExpr":"datum.value==2?'2':''","labelOverlap":false,"title":null}},"x":{"field":"dens","type":"quantitative","stack":"center","impute":null,"scale":{"domain":[-15.7,254.3],"nice":false,"zero":false},"axis":null}}},
 {"transform":[{"filter":"datum.gene==='Dag1' && datum.grp==='MUT'"}],"mark":{"type":"area","orient":"horizontal","interpolate":"monotone","fill":"#377EB8","stroke":"#333","strokeWidth":1},"encoding":{"y":{"field":"expr","type":"quantitative"},"x":{"field":"dens","type":"quantitative","stack":"center","impute":null,"scale":{"domain":[-138.3,131.7],"nice":false,"zero":false},"axis":null}}}
 ],"resolve":{"scale":{"x":"independent"}}},
{"height":44.9,"width":270,"title":{"text":"Jun","orient":"right","angle":0,"align":"right","baseline":"middle","fontStyle":"italic","fontSize":24,"offset":13,"dy":2},
 "layer":[
 {"transform":[{"filter":"datum.gene==='Jun' && datum.grp==='WT'"}],"mark":{"type":"area","orient":"horizontal","interpolate":"monotone","fill":"#E41A1C","stroke":"#333","strokeWidth":1},"encoding":{"y":{"field":"expr","type":"quantitative","scale":{"domain":[0,3.18],"nice":false,"zero":false},"axis":{"values":[0,1,2],"labelExpr":"datum.value==2?'2':''","labelOverlap":false,"title":null}},"x":{"field":"dens","type":"quantitative","stack":"center","impute":null,"scale":{"domain":[-15.7,254.3],"nice":false,"zero":false},"axis":null}}},
 {"transform":[{"filter":"datum.gene==='Jun' && datum.grp==='MUT'"}],"mark":{"type":"area","orient":"horizontal","interpolate":"monotone","fill":"#377EB8","stroke":"#333","strokeWidth":1},"encoding":{"y":{"field":"expr","type":"quantitative"},"x":{"field":"dens","type":"quantitative","stack":"center","impute":null,"scale":{"domain":[-138.3,131.7],"nice":false,"zero":false},"axis":null}}}
 ],"resolve":{"scale":{"x":"independent"}}},
{"height":44.9,"width":270,"title":{"text":"Ank3","orient":"right","angle":0,"align":"right","baseline":"middle","fontStyle":"italic","fontSize":24,"offset":13,"dy":2},
 "layer":[
 {"transform":[{"filter":"datum.gene==='Ank3' && datum.grp==='WT'"}],"mark":{"type":"area","orient":"horizontal","interpolate":"monotone","fill":"#E41A1C","stroke":"#333","strokeWidth":1},"encoding":{"y":{"field":"expr","type":"quantitative","scale":{"domain":[0,3.01],"nice":false,"zero":false},"axis":{"values":[0,1,2],"labelExpr":"datum.value==2?'2':''","labelOverlap":false,"title":null}},"x":{"field":"dens","type":"quantitative","stack":"center","impute":null,"scale":{"domain":[-15.7,254.3],"nice":false,"zero":false},"axis":null}}},
 {"transform":[{"filter":"datum.gene==='Ank3' && datum.grp==='MUT'"}],"mark":{"type":"area","orient":"horizontal","interpolate":"monotone","fill":"#377EB8","stroke":"#333","strokeWidth":1},"encoding":{"y":{"field":"expr","type":"quantitative"},"x":{"field":"dens","type":"quantitative","stack":"center","impute":null,"scale":{"domain":[-196.05,73.95],"nice":false,"zero":false},"axis":null}}}
 ],"resolve":{"scale":{"x":"independent"}}},
{"height":44.9,"width":270,"title":{"text":"Ktn1","orient":"right","angle":0,"align":"right","baseline":"middle","fontStyle":"italic","fontSize":24,"offset":13,"dy":2},
 "layer":[
 {"transform":[{"filter":"datum.gene==='Ktn1' && datum.grp==='WT'"}],"mark":{"type":"area","orient":"horizontal","interpolate":"monotone","fill":"#E41A1C","stroke":"#333","strokeWidth":1},"encoding":{"y":{"field":"expr","type":"quantitative","scale":{"domain":[0,3.55],"nice":false,"zero":false},"axis":{"values":[0,1,2,3],"labelExpr":"datum.value==3?'3':''","labelOverlap":false,"title":null}},"x":{"field":"dens","type":"quantitative","stack":"center","impute":null,"scale":{"domain":[-15.7,254.3],"nice":false,"zero":false},"axis":null}}},
 {"transform":[{"filter":"datum.gene==='Ktn1' && datum.grp==='MUT'"}],"mark":{"type":"area","orient":"horizontal","interpolate":"monotone","fill":"#377EB8","stroke":"#333","strokeWidth":1},"encoding":{"y":{"field":"expr","type":"quantitative"},"x":{"field":"dens","type":"quantitative","stack":"center","impute":null,"scale":{"domain":[-138.3,131.7],"nice":false,"zero":false},"axis":null}}}
 ],"resolve":{"scale":{"x":"independent"}}},
{"height":44.9,"width":270,"title":{"text":"Lbh","orient":"right","angle":0,"align":"right","baseline":"middle","fontStyle":"italic","fontSize":24,"offset":13,"dy":2},
 "layer":[
 {"transform":[{"filter":"datum.gene==='Lbh' && datum.grp==='WT'"}],"mark":{"type":"area","orient":"horizontal","interpolate":"monotone","fill":"#E41A1C","stroke":"#333","strokeWidth":1},"encoding":{"y":{"field":"expr","type":"quantitative","scale":{"domain":[0,3.94],"nice":false,"zero":false},"axis":{"values":[0,1,2,3],"labelExpr":"datum.value==3?'3':''","labelOverlap":false,"title":null}},"x":{"field":"dens","type":"quantitative","stack":"center","impute":null,"scale":{"domain":[-15.7,254.3],"nice":false,"zero":false},"axis":null}}},
 {"transform":[{"filter":"datum.gene==='Lbh' && datum.grp==='MUT'"}],"mark":{"type":"area","orient":"horizontal","interpolate":"monotone","fill":"#377EB8","stroke":"#333","strokeWidth":1},"encoding":{"y":{"field":"expr","type":"quantitative"},"x":{"field":"dens","type":"quantitative","stack":"center","impute":null,"scale":{"domain":[-138.3,131.7],"nice":false,"zero":false},"axis":null}}}
 ],"resolve":{"scale":{"x":"independent"}}},
{"height":44.9,"width":270,"title":{"text":"Lpp","orient":"right","angle":0,"align":"right","baseline":"middle","fontStyle":"italic","fontSize":24,"offset":13,"dy":2},
 "layer":[
 {"transform":[{"filter":"datum.gene==='Lpp' && datum.grp==='WT'"}],"mark":{"type":"area","orient":"horizontal","interpolate":"monotone","fill":"#E41A1C","stroke":"#333","strokeWidth":1},"encoding":{"y":{"field":"expr","type":"quantitative","scale":{"domain":[0,2.99],"nice":false,"zero":false},"axis":{"values":[0,1,2],"labelExpr":"datum.value==2?'2':''","labelOverlap":false,"title":null}},"x":{"field":"dens","type":"quantitative","stack":"center","impute":null,"scale":{"domain":[-15.7,254.3],"nice":false,"zero":false},"axis":null}}},
 {"transform":[{"filter":"datum.gene==='Lpp' && datum.grp==='MUT'"}],"mark":{"type":"area","orient":"horizontal","interpolate":"monotone","fill":"#377EB8","stroke":"#333","strokeWidth":1},"encoding":{"y":{"field":"expr","type":"quantitative"},"x":{"field":"dens","type":"quantitative","stack":"center","impute":null,"scale":{"domain":[-196.05,73.95],"nice":false,"zero":false},"axis":null}}}
 ],"resolve":{"scale":{"x":"independent"}}},
{"height":44.9,"width":270,"title":{"text":"Mettl9","orient":"right","angle":0,"align":"right","baseline":"middle","fontStyle":"italic","fontSize":24,"offset":13,"dy":2},
 "layer":[
 {"transform":[{"filter":"datum.gene==='Mettl9' && datum.grp==='WT'"}],"mark":{"type":"area","orient":"horizontal","interpolate":"monotone","fill":"#E41A1C","stroke":"#333","strokeWidth":1},"encoding":{"y":{"field":"expr","type":"quantitative","scale":{"domain":[0,2.9],"nice":false,"zero":false},"axis":{"values":[0,1,2],"labelExpr":"datum.value==2?'2':''","labelOverlap":false,"title":null}},"x":{"field":"dens","type":"quantitative","stack":"center","impute":null,"scale":{"domain":[-15.7,254.3],"nice":false,"zero":false},"axis":null}}},
 {"transform":[{"filter":"datum.gene==='Mettl9' && datum.grp==='MUT'"}],"mark":{"type":"area","orient":"horizontal","interpolate":"monotone","fill":"#377EB8","stroke":"#333","strokeWidth":1},"encoding":{"y":{"field":"expr","type":"quantitative"},"x":{"field":"dens","type":"quantitative","stack":"center","impute":null,"scale":{"domain":[-138.3,131.7],"nice":false,"zero":false},"axis":null}}}
 ],"resolve":{"scale":{"x":"independent"}}},
{"height":44.9,"width":270,"title":{"text":"Oxct1","orient":"right","angle":0,"align":"right","baseline":"middle","fontStyle":"italic","fontSize":24,"offset":13,"dy":2},
 "layer":[
 {"transform":[{"filter":"datum.gene==='Oxct1' && datum.grp==='WT'"}],"mark":{"type":"area","orient":"horizontal","interpolate":"monotone","fill":"#E41A1C","stroke":"#333","strokeWidth":1},"encoding":{"y":{"field":"expr","type":"quantitative","scale":{"domain":[0,3.68],"nice":false,"zero":false},"axis":{"values":[0,1,2,3],"labelExpr":"datum.value==3?'3':''","labelOverlap":false,"title":null}},"x":{"field":"dens","type":"quantitative","stack":"center","impute":null,"scale":{"domain":[-15.7,254.3],"nice":false,"zero":false},"axis":null}}},
 {"transform":[{"filter":"datum.gene==='Oxct1' && datum.grp==='MUT'"}],"mark":{"type":"area","orient":"horizontal","interpolate":"monotone","fill":"#377EB8","stroke":"#333","strokeWidth":1},"encoding":{"y":{"field":"expr","type":"quantitative"},"x":{"field":"dens","type":"quantitative","stack":"center","impute":null,"scale":{"domain":[-138.3,131.7],"nice":false,"zero":false},"axis":null}}}
 ],"resolve":{"scale":{"x":"independent"}}},
{"height":44.9,"width":270,"title":{"text":"Rbm20","orient":"right","angle":0,"align":"right","baseline":"middle","fontStyle":"italic","fontSize":24,"offset":13,"dy":2},
 "layer":[
 {"transform":[{"filter":"datum.gene==='Rbm20' && datum.grp==='WT'"}],"mark":{"type":"area","orient":"horizontal","interpolate":"monotone","fill":"#E41A1C","stroke":"#333","strokeWidth":1},"encoding":{"y":{"field":"expr","type":"quantitative","scale":{"domain":[0,3.08],"nice":false,"zero":false},"axis":{"values":[0,1,2],"labelExpr":"datum.value==2?'2':''","labelOverlap":false,"title":null}},"x":{"field":"dens","type":"quantitative","stack":"center","impute":null,"scale":{"domain":[-15.7,254.3],"nice":false,"zero":false},"axis":null}}},
 {"transform":[{"filter":"datum.gene==='Rbm20' && datum.grp==='MUT'"}],"mark":{"type":"area","orient":"horizontal","interpolate":"monotone","fill":"#377EB8","stroke":"#333","strokeWidth":1},"encoding":{"y":{"field":"expr","type":"quantitative"},"x":{"field":"dens","type":"quantitative","stack":"center","impute":null,"scale":{"domain":[-196.05,73.95],"nice":false,"zero":false},"axis":null}}}
 ],"resolve":{"scale":{"x":"independent"}}},
{"height":44.9,"width":270,"title":{"text":"Rbms1","orient":"right","angle":0,"align":"right","baseline":"middle","fontStyle":"italic","fontSize":24,"offset":13,"dy":2},
 "layer":[
 {"transform":[{"filter":"datum.gene==='Rbms1' && datum.grp==='WT'"}],"mark":{"type":"area","orient":"horizontal","interpolate":"monotone","fill":"#E41A1C","stroke":"#333","strokeWidth":1},"encoding":{"y":{"field":"expr","type":"quantitative","scale":{"domain":[0,2.69],"nice":false,"zero":false},"axis":{"values":[0,1,2],"labelExpr":"datum.value==2?'2':''","labelOverlap":false,"title":null}},"x":{"field":"dens","type":"quantitative","stack":"center","impute":null,"scale":{"domain":[-15.7,254.3],"nice":false,"zero":false},"axis":null}}},
 {"transform":[{"filter":"datum.gene==='Rbms1' && datum.grp==='MUT'"}],"mark":{"type":"area","orient":"horizontal","interpolate":"monotone","fill":"#377EB8","stroke":"#333","strokeWidth":1},"encoding":{"y":{"field":"expr","type":"quantitative"},"x":{"field":"dens","type":"quantitative","stack":"center","impute":null,"scale":{"domain":[-196.05,73.95],"nice":false,"zero":false},"axis":null}}}
 ],"resolve":{"scale":{"x":"independent"}}},
{"height":44.9,"width":270,"title":{"text":"S100a10","orient":"right","angle":0,"align":"right","baseline":"middle","fontStyle":"italic","fontSize":24,"offset":13,"dy":2},
 "layer":[
 {"transform":[{"filter":"datum.gene==='S100a10' && datum.grp==='WT'"}],"mark":{"type":"area","orient":"horizontal","interpolate":"monotone","fill":"#E41A1C","stroke":"#333","strokeWidth":1},"encoding":{"y":{"field":"expr","type":"quantitative","scale":{"domain":[0,3.62],"nice":false,"zero":false},"axis":{"values":[0,1,2,3],"labelExpr":"datum.value==3?'3':''","labelOverlap":false,"title":null}},"x":{"field":"dens","type":"quantitative","stack":"center","impute":null,"scale":{"domain":[-15.7,254.3],"nice":false,"zero":false},"axis":null}}},
 {"transform":[{"filter":"datum.gene==='S100a10' && datum.grp==='MUT'"}],"mark":{"type":"area","orient":"horizontal","interpolate":"monotone","fill":"#377EB8","stroke":"#333","strokeWidth":1},"encoding":{"y":{"field":"expr","type":"quantitative"},"x":{"field":"dens","type":"quantitative","stack":"center","impute":null,"scale":{"domain":[-138.3,131.7],"nice":false,"zero":false},"axis":null}}}
 ],"resolve":{"scale":{"x":"independent"}}},
{"height":44.9,"width":270,"title":{"text":"Sdha","orient":"right","angle":0,"align":"right","baseline":"middle","fontStyle":"italic","fontSize":24,"offset":13,"dy":2},
 "layer":[
 {"transform":[{"filter":"datum.gene==='Sdha' && datum.grp==='WT'"}],"mark":{"type":"area","orient":"horizontal","interpolate":"monotone","fill":"#E41A1C","stroke":"#333","strokeWidth":1},"encoding":{"y":{"field":"expr","type":"quantitative","scale":{"domain":[0,3.87],"nice":false,"zero":false},"axis":{"values":[0,1,2,3],"labelExpr":"datum.value==3?'3':''","labelOverlap":false,"title":null}},"x":{"field":"dens","type":"quantitative","stack":"center","impute":null,"scale":{"domain":[-15.7,254.3],"nice":false,"zero":false},"axis":null}}},
 {"transform":[{"filter":"datum.gene==='Sdha' && datum.grp==='MUT'"}],"mark":{"type":"area","orient":"horizontal","interpolate":"monotone","fill":"#377EB8","stroke":"#333","strokeWidth":1},"encoding":{"y":{"field":"expr","type":"quantitative"},"x":{"field":"dens","type":"quantitative","stack":"center","impute":null,"scale":{"domain":[-138.3,131.7],"nice":false,"zero":false},"axis":null}}}
 ],"resolve":{"scale":{"x":"independent"}}},
{"height":44.9,"width":270,"title":{"text":"Sptbn1","orient":"right","angle":0,"align":"right","baseline":"middle","fontStyle":"italic","fontSize":24,"offset":13,"dy":2},
 "layer":[
 {"transform":[{"filter":"datum.gene==='Sptbn1' && datum.grp==='WT'"}],"mark":{"type":"area","orient":"horizontal","interpolate":"monotone","fill":"#E41A1C","stroke":"#333","strokeWidth":1},"encoding":{"y":{"field":"expr","type":"quantitative","scale":{"domain":[0,3.56],"nice":false,"zero":false},"axis":{"values":[0,1,2,3],"labelExpr":"datum.value==3?'3':''","labelOverlap":false,"title":null}},"x":{"field":"dens","type":"quantitative","stack":"center","impute":null,"scale":{"domain":[-15.7,254.3],"nice":false,"zero":false},"axis":null}}},
 {"transform":[{"filter":"datum.gene==='Sptbn1' && datum.grp==='MUT'"}],"mark":{"type":"area","orient":"horizontal","interpolate":"monotone","fill":"#377EB8","stroke":"#333","strokeWidth":1},"encoding":{"y":{"field":"expr","type":"quantitative"},"x":{"field":"dens","type":"quantitative","stack":"center","impute":null,"scale":{"domain":[-138.3,131.7],"nice":false,"zero":false},"axis":null}}}
 ],"resolve":{"scale":{"x":"independent"}}},
{"height":44.9,"width":270,"title":{"text":"Synpo2l","orient":"right","angle":0,"align":"right","baseline":"middle","fontStyle":"italic","fontSize":24,"offset":13,"dy":2},
 "layer":[
 {"transform":[{"filter":"datum.gene==='Synpo2l' && datum.grp==='WT'"}],"mark":{"type":"area","orient":"horizontal","interpolate":"monotone","fill":"#E41A1C","stroke":"#333","strokeWidth":1},"encoding":{"y":{"field":"expr","type":"quantitative","scale":{"domain":[0,3.45],"nice":false,"zero":false},"axis":{"values":[0,1,2],"labelExpr":"datum.value==2?'2':''","labelOverlap":false,"title":null}},"x":{"field":"dens","type":"quantitative","stack":"center","impute":null,"scale":{"domain":[-15.7,254.3],"nice":false,"zero":false},"axis":null}}},
 {"transform":[{"filter":"datum.gene==='Synpo2l' && datum.grp==='MUT'"}],"mark":{"type":"area","orient":"horizontal","interpolate":"monotone","fill":"#377EB8","stroke":"#333","strokeWidth":1},"encoding":{"y":{"field":"expr","type":"quantitative"},"x":{"field":"dens","type":"quantitative","stack":"center","impute":null,"scale":{"domain":[-138.3,131.7],"nice":false,"zero":false},"axis":null}}}
 ],"resolve":{"scale":{"x":"independent"}}},
{"height":44.9,"width":270,"title":{"text":"Tbx20","orient":"right","angle":0,"align":"right","baseline":"middle","fontStyle":"italic","fontSize":24,"offset":13,"dy":2},
 "layer":[
 {"transform":[{"filter":"datum.gene==='Tbx20' && datum.grp==='WT'"}],"mark":{"type":"area","orient":"horizontal","interpolate":"monotone","fill":"#E41A1C","stroke":"#333","strokeWidth":1},"encoding":{"y":{"field":"expr","type":"quantitative","scale":{"domain":[0,3.25],"nice":false,"zero":false},"axis":{"values":[0,1,2],"labelExpr":"datum.value==2?'2':''","labelOverlap":false,"title":null}},"x":{"field":"dens","type":"quantitative","stack":"center","impute":null,"scale":{"domain":[-15.7,254.3],"nice":false,"zero":false},"axis":null}}},
 {"transform":[{"filter":"datum.gene==='Tbx20' && datum.grp==='MUT'"}],"mark":{"type":"area","orient":"horizontal","interpolate":"monotone","fill":"#377EB8","stroke":"#333","strokeWidth":1},"encoding":{"y":{"field":"expr","type":"quantitative"},"x":{"field":"dens","type":"quantitative","stack":"center","impute":null,"scale":{"domain":[-138.3,131.7],"nice":false,"zero":false},"axis":null}}}
 ],"resolve":{"scale":{"x":"independent"}}},
{"height":44.9,"width":270,"title":{"text":"Tln2","orient":"right","angle":0,"align":"right","baseline":"middle","fontStyle":"italic","fontSize":24,"offset":13,"dy":2},
 "layer":[
 {"transform":[{"filter":"datum.gene==='Tln2' && datum.grp==='WT'"}],"mark":{"type":"area","orient":"horizontal","interpolate":"monotone","fill":"#E41A1C","stroke":"#333","strokeWidth":1},"encoding":{"y":{"field":"expr","type":"quantitative","scale":{"domain":[0,2.82],"nice":false,"zero":false},"axis":{"values":[0,1,2],"labelExpr":"datum.value==2?'2':''","labelOverlap":false,"title":null}},"x":{"field":"dens","type":"quantitative","stack":"center","impute":null,"scale":{"domain":[-15.7,254.3],"nice":false,"zero":false},"axis":null}}},
 {"transform":[{"filter":"datum.gene==='Tln2' && datum.grp==='MUT'"}],"mark":{"type":"area","orient":"horizontal","interpolate":"monotone","fill":"#377EB8","stroke":"#333","strokeWidth":1},"encoding":{"y":{"field":"expr","type":"quantitative"},"x":{"field":"dens","type":"quantitative","stack":"center","impute":null,"scale":{"domain":[-196.05,73.95],"nice":false,"zero":false},"axis":null}}}
 ],"resolve":{"scale":{"x":"independent"}}},
{"height":44.9,"width":270,"title":{"text":"Ywhaz","orient":"right","angle":0,"align":"right","baseline":"middle","fontStyle":"italic","fontSize":24,"offset":-30,"dy":2},
 "layer":[
 {"transform":[{"filter":"datum.gene==='Ywhaz' && datum.grp==='WT'"}],"mark":{"type":"area","orient":"horizontal","interpolate":"monotone","fill":"#E41A1C","stroke":"#333","strokeWidth":1},"encoding":{"y":{"field":"expr","type":"quantitative","scale":{"domain":[0,2.99],"nice":false,"zero":false},"axis":{"values":[0,1,2],"labelExpr":"datum.value==2?'2':''","labelOverlap":false,"title":null}},"x":{"field":"dens","type":"quantitative","stack":"center","impute":null,"scale":{"domain":[-15.7,254.3],"nice":false,"zero":false},"axis":null}}},
 {"transform":[{"filter":"datum.gene==='Ywhaz' && datum.grp==='MUT'"}],"mark":{"type":"area","orient":"horizontal","interpolate":"monotone","fill":"#377EB8","stroke":"#333","strokeWidth":1},"encoding":{"y":{"field":"expr","type":"quantitative"},"x":{"field":"dens","type":"quantitative","stack":"center","impute":null,"scale":{"domain":[-138.3,131.7],"nice":false,"zero":false},"axis":null}}},
 {"data":{"values":[{"grp":"WT","part":"base","txt":"Lmna"},{"grp":"WT","part":"sup","txt":"WT/WT"},{"grp":"MUT","part":"base","txt":"Lmna"},{"grp":"MUT","part":"supi","txt":"Q353R"},{"grp":"MUT","part":"sup","txt":"/WT"}]},
  "encoding":{"x":{"field":"grp","type":"nominal","scale":{"type":"point","domain":["WT","MUT"],"padding":0.601},"axis":{"orient":"bottom","labels":false,"domain":false,"ticks":true,"tickSize":5,"title":null,"grid":false}},"text":{"field":"txt"}},
  "layer":[
   {"transform":[{"filter":"datum.grp==='WT' && datum.part==='base'"}],"mark":{"type":"text","align":"right","baseline":"alphabetic","fontSize":27,"fontStyle":"italic","dx":8.8},"encoding":{"y":{"datum":-2.2}}},
   {"transform":[{"filter":"datum.grp==='WT' && datum.part==='sup'"}],"mark":{"type":"text","align":"left","baseline":"alphabetic","fontSize":17,"dx":10.8},"encoding":{"y":{"datum":-1.74}}},
   {"transform":[{"filter":"datum.grp==='MUT' && datum.part==='base'"}],"mark":{"type":"text","align":"right","baseline":"alphabetic","fontSize":27,"fontStyle":"italic","dx":30.2},"encoding":{"y":{"datum":-2.2}}},
   {"transform":[{"filter":"datum.grp==='MUT' && datum.part==='supi'"}],"mark":{"type":"text","align":"left","baseline":"alphabetic","fontSize":17,"fontStyle":"italic","dx":31.2},"encoding":{"y":{"datum":-1.74}}},
   {"transform":[{"filter":"datum.grp==='MUT' && datum.part==='sup'"}],"mark":{"type":"text","align":"left","baseline":"alphabetic","fontSize":17,"dx":84},"encoding":{"y":{"datum":-1.74}}}
  ]}
 ],"resolve":{"scale":{"x":"independent"}}}
],
"config":{
 "font":"Liberation Sans",
 "view":{"stroke":"#222","strokeWidth":1.2},
 "axis":{"labelFont":"Liberation Sans","labelFontSize":19,"labelColor":"#000","tickColor":"#222","domainColor":"#222","tickSize":4,"labelPadding":2,"grid":false,"labelOverlap":false},
 "title":{"font":"Liberation Sans","fontWeight":"normal","color":"#000"},
 "text":{"font":"Liberation Sans","color":"#000"}
}
}
